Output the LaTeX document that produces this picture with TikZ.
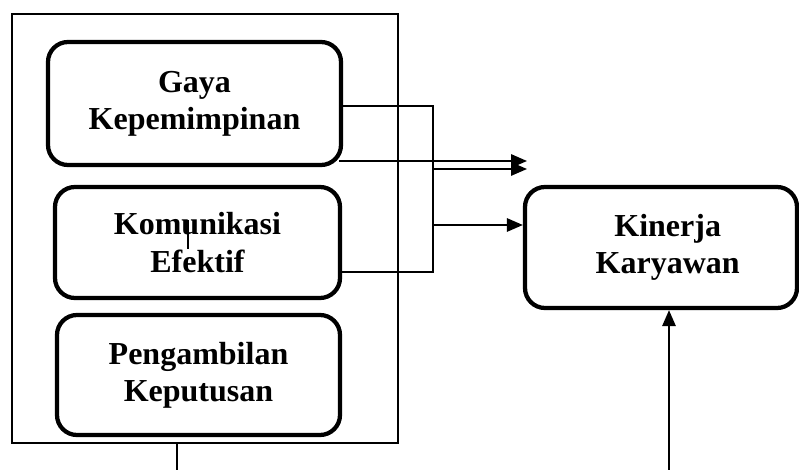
\documentclass[tikz,border=0pt]{standalone}
\usepackage{fontspec}
\setmainfont{Liberation Serif}
\usetikzlibrary{arrows.meta}

\tikzset{
    varbox/.style={draw,line width=3.2pt,rounded corners=15pt,align=center,
        font=\fontsize{24}{28}\selectfont\bfseries,inner sep=0pt},
    link/.style={line width=1.5pt},
    linkarrow/.style={link,-{Triangle[length=12pt,width=10pt]}}
}

\begin{document}
\begin{tikzpicture}[x=0.75pt,y=-0.75pt]
    \useasboundingbox (0,0) rectangle (799,470);

    % independent variables (left side)
    \node[draw,line width=1.1pt,minimum width=289.5pt,minimum height=321.75pt] (frame) at (205,228.5) {};
    \node[varbox,minimum width=219.75pt,minimum height=92.25pt] (gaya) at (194.5,103.5) {Gaya\\Kepemimpinan};
    \node[varbox,minimum width=213.75pt,minimum height=83.25pt] (komunikasi) at (197.5,242.5) {Komunikasi\\Efektif};
    \node[varbox,minimum width=212.25pt,minimum height=90pt] (pengambilan) at (198.5,375) {Pengambilan\\Keputusan};

    % dependent variable (right side)
    \node[varbox,minimum width=204pt,minimum height=90.75pt] (kinerja) at (661,247.5) {\hspace{10pt}Kinerja\\\hspace{10pt}Karyawan};

    % connectors
    \coordinate (jtop) at (433,106);
    \coordinate (jbot) at (433,272);
    \coordinate (jmid) at (433,225);
    \coordinate (jdbl) at (433,161);
    \coordinate (jdbl2) at (433,169);
    \coordinate (tipa) at (527,161);
    \coordinate (tipb) at (527,169);
    \coordinate (gayaout) at (339,161);
    \draw[link] (gaya.east |- jtop) -- (jtop) -- (jbot) -- (komunikasi.east |- jbot);
    \draw[linkarrow] (jmid) -- (kinerja.west |- jmid);
    \draw[link] (gayaout) -- (jdbl);
    \draw[linkarrow] (jdbl) -- (tipa);
    \draw[linkarrow] (jdbl2) -- (tipb);

    % lines at the bottom
    \coordinate (framefoot) at (177,470);
    \coordinate (kinerjafoot) at (669,470);
    \draw[link] (frame.south -| framefoot) -- (framefoot);
    \draw[linkarrow] (kinerjafoot) -- (kinerja.south -| kinerjafoot);

    % stray mark in the middle box
    \coordinate (marktop) at (188,220);
    \coordinate (markbot) at (188,249);
    \draw[line width=1pt] (marktop) -- (markbot);
\end{tikzpicture}
\end{document}
